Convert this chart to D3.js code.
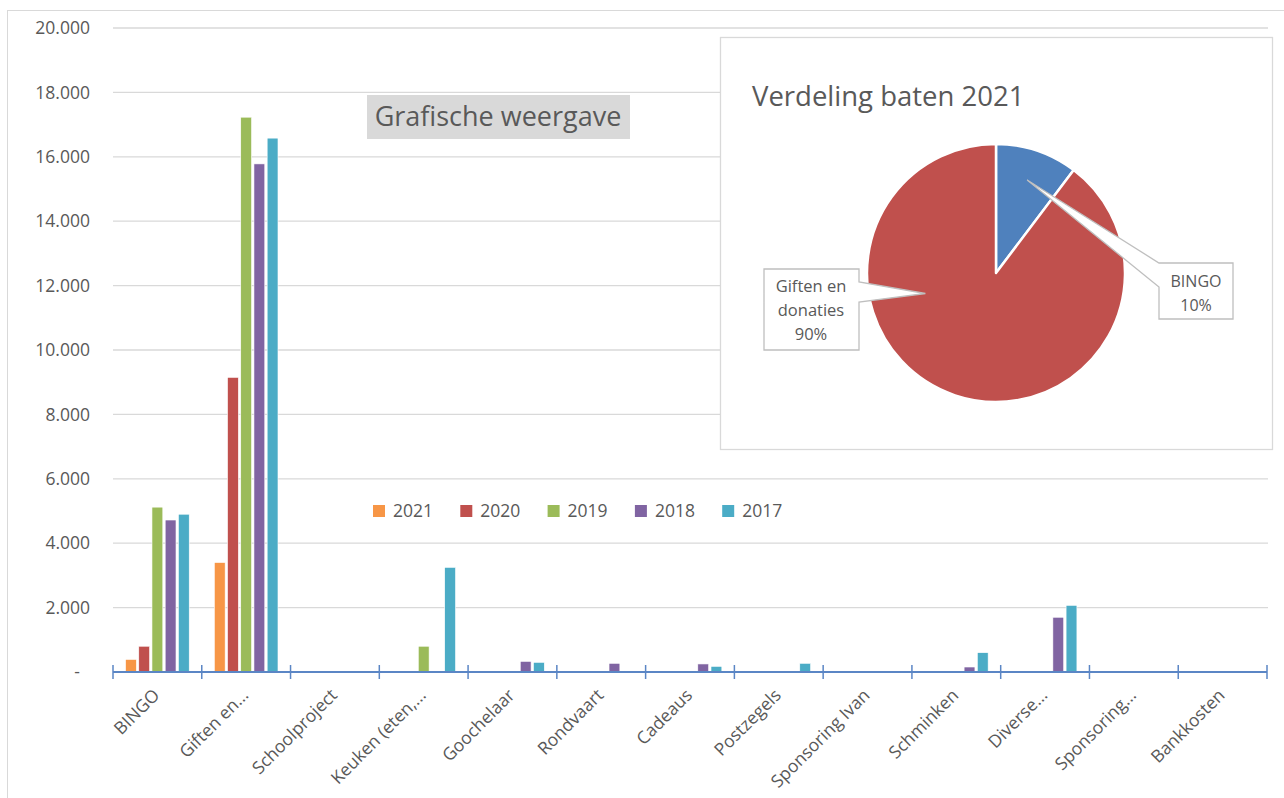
<!DOCTYPE html>
<html>
<head>
<meta charset="utf-8">
<script src="https://cdn.jsdelivr.net/npm/d3@7"></script>
<style>
  body { margin: 0; background: #fff; }
  svg { display: block; font-family: "Open Sans", sans-serif; }
</style>
</head>
<body>
<svg id="chart" width="1284" height="798"></svg>
<script>
// categories on the x axis
var categories = ["BINGO", "Giften en...", "Schoolproject", "Keuken (eten,...", "Goochelaar",
  "Rondvaart", "Cadeaus", "Postzegels", "Sponsoring Ivan", "Schminken", "Diverse...",
  "Sponsoring...", "Bankkosten"];
var years = ["2021", "2020", "2019", "2018", "2017"];
var colors = ["#F79646", "#C0504D", "#9BBB59", "#8064A2", "#4BACC6"];

// values per year, same order as categories
var v2021 = [390, 3400, 0, 0, 0, 0, 0, 0, 0, 0, 0, 0, 0];
var v2020 = [800, 9150, 0, 0, 0, 0, 0, 0, 0, 0, 0, 0, 0];
var v2019 = [5120, 17230, 0, 800, 0, 0, 0, 0, 0, 0, 0, 0, 0];
var v2018 = [4720, 15780, 0, 0, 330, 270, 250, 0, 0, 155, 1700, 0, 0];
var v2017 = [4900, 16580, 0, 3250, 300, 0, 175, 270, 0, 600, 2070, 0, 0];
var series = [v2021, v2020, v2019, v2018, v2017];

var yTicks = [0, 2000, 4000, 6000, 8000, 10000, 12000, 14000, 16000, 18000, 20000];

// pie: 2021 split
var pieLabels = ["BINGO", "Giften en donaties"];
var pieValues = [v2021[0], v2021[1]];
var pieColors = ["#4F81BD", "#C0504D"];

var svg = d3.select("#chart");
var textCol = "#595959";

// outer chart frame
svg.append("rect").attr("x", 7.5).attr("y", 10.5).attr("width", 1300).attr("height", 800)
  .attr("fill", "none").attr("stroke", "#d9d9d9");

var pLeft = 113, pRight = 1267, pTop = 28, pBottom = 672;

var x0 = d3.scaleBand().domain(categories).range([pLeft, pRight]);
var x1 = d3.scaleBand().domain(years).range([0, x0.bandwidth()])
  .paddingInner(0.18).paddingOuter(0.95);
var y = d3.scaleLinear().domain([0, 20000]).range([pBottom, pTop]);

// gridlines
svg.append("g").selectAll("line").data(yTicks.slice(1)).join("line")
  .attr("x1", pLeft).attr("x2", pRight + 1)
  .attr("y1", d => y(d)).attr("y2", d => y(d))
  .attr("stroke", "#d9d9d9").attr("stroke-width", 1.3);

// y labels
var fmt = d3.format(",.0f");
svg.append("g").selectAll("text").data(yTicks).join("text")
  .attr("x", d => d === 0 ? 80 : 90).attr("y", d => y(d)).attr("dy", "0.35em")
  .attr("text-anchor", "end").attr("fill", textCol).attr("font-size", 17.5)
  .text(d => d === 0 ? "-" : fmt(d).replace(/,/g, "."));

// bars
years.forEach(function (yr, i) {
  svg.append("g").selectAll("rect").data(series[i]).join("rect")
    .attr("x", (d, j) => x0(categories[j]) + x1(yr))
    .attr("width", x1.bandwidth())
    .attr("y", d => y(d))
    .attr("height", d => pBottom - y(d))
    .attr("fill", colors[i])
    .attr("stroke", "#fff").attr("stroke-width", 0.6);
});

// x axis
var xAxis = svg.append("g");
xAxis.append("line").attr("x1", pLeft).attr("x2", pRight)
  .attr("y1", pBottom).attr("y2", pBottom)
  .attr("stroke", "#5B86C5").attr("stroke-width", 2);
xAxis.selectAll("line.tick").data(categories.concat(["end"])).join("line")
  .attr("class", "tick")
  .attr("x1", (d, i) => pLeft + i * x0.step()).attr("x2", (d, i) => pLeft + i * x0.step())
  .attr("y1", pBottom - 7).attr("y2", pBottom + 7)
  .attr("stroke", "#5B86C5").attr("stroke-width", 1.5);
xAxis.selectAll("text").data(categories).join("text")
  .attr("transform", d => "translate(" + (x0(d) + x0.bandwidth() / 2 - 1) + "," + (pBottom + 20) + ") rotate(-45)")
  .attr("text-anchor", "end").attr("dy", "0.35em")
  .attr("fill", textCol).attr("font-size", 17.5)
  .text(d => d);

// legend
var legend = svg.append("g").selectAll("g").data(years).join("g")
  .attr("transform", (d, i) => "translate(" + (373 + i * 87.3) + ",511)");
legend.append("rect").attr("x", 0).attr("y", -6).attr("width", 12).attr("height", 12)
  .attr("fill", (d, i) => colors[i]);
legend.append("text").attr("x", 20).attr("dy", "0.35em")
  .attr("fill", textCol).attr("font-size", 17.5).text(d => d);

// title box
svg.append("rect").attr("x", 367).attr("y", 95).attr("width", 263).attr("height", 44)
  .attr("fill", "#d9d9d9");
svg.append("text").attr("x", 498).attr("y", 117).attr("dy", "0.35em")
  .attr("text-anchor", "middle").attr("fill", textCol).attr("font-size", 27)
  .text("Grafische weergave");

// pie panel
svg.append("rect").attr("x", 720.5).attr("y", 37.5).attr("width", 552).attr("height", 412)
  .attr("fill", "#fff").attr("stroke", "#d9d9d9").attr("stroke-width", 1.3);
svg.append("text").attr("x", 752).attr("y", 106)
  .attr("fill", textCol).attr("font-size", 27.5).text("Verdeling baten 2021");

var cx = 996, cy = 273, r = 129;
var pie = d3.pie().sort(null);
var arcs = pie(pieValues);
var arc = d3.arc().innerRadius(0).outerRadius(r);
var pg = svg.append("g").attr("transform", "translate(" + cx + "," + cy + ")");
pg.selectAll("path").data(arcs).join("path")
  .attr("d", arc).attr("fill", (d, i) => pieColors[i])
  .attr("stroke", "#fff").attr("stroke-width", 2.5).attr("stroke-linejoin", "round");

var pct = d3.format(".0%");
var total = d3.sum(pieValues);

// callout boxes
function polar(a, rr) { return [cx + rr * Math.sin(a), cy - rr * Math.cos(a)]; }
var pB = polar((arcs[0].startAngle + arcs[0].endAngle) / 2, r * 0.76);
var pG = polar(Math.PI * 1.41, r * 0.57);

var callG = svg.append("g").attr("fill", "#fff").attr("stroke", "#bfbfbf").attr("stroke-width", 1.3);
callG.append("path").attr("d",
  "M" + pB[0] + "," + pB[1] + " L1159,263 L1233,263 L1233,319 L1159,319 L1159,287 Z");
callG.append("path").attr("d",
  "M764,269 L859,269 L859,282 L" + pG[0] + "," + pG[1] + " L859,302 L859,350 L764,350 Z");

var t1 = svg.append("text").attr("text-anchor", "middle").attr("fill", textCol).attr("font-size", 16);
t1.append("tspan").attr("x", 1196).attr("y", 287).text(pieLabels[0]);
t1.append("tspan").attr("x", 1196).attr("y", 311).text(pct(pieValues[0] / total));

var t2 = svg.append("text").attr("text-anchor", "middle").attr("fill", textCol).attr("font-size", 16.5);
t2.append("tspan").attr("x", 811).attr("y", 292).text("Giften en");
t2.append("tspan").attr("x", 811).attr("y", 316).text("donaties");
t2.append("tspan").attr("x", 811).attr("y", 340).text(pct(pieValues[1] / total));
</script>
</body>
</html>
